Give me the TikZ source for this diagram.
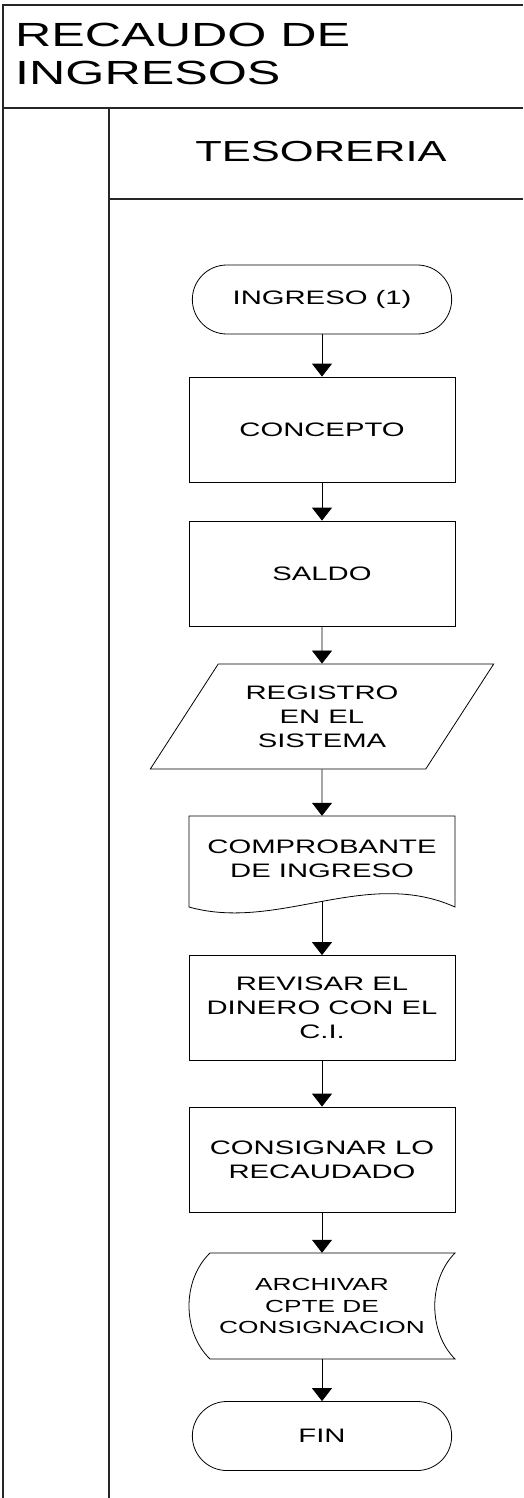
\documentclass[tikz,border=0pt]{standalone}
\usepackage{fontspec}
\setmainfont{Liberation Sans}[FakeStretch=1.5]
\usetikzlibrary{shapes.misc}
\usetikzlibrary{shapes.geometric}
\usetikzlibrary{arrows.meta}

\tikzset{
	caja/.style={draw, rectangle, minimum width=266pt, minimum height=105pt, align=center, line width=0.8pt, font=\fontsize{19.5}{24}\selectfont},
	terminal/.style={draw, rounded rectangle, minimum width=266pt, minimum height=69pt, line width=0.8pt, font=\fontsize{19.5}{24}\selectfont},
	datos/.style={draw, trapezium, trapezium left angle=52.7, trapezium right angle=127.3, trapezium stretches=true, minimum width=344pt, minimum height=105pt, align=center, line width=0.8pt, font=\fontsize{19.5}{24}\selectfont},
	hueco/.style={rectangle, minimum width=266pt, align=center, font=\fontsize{19.5}{24}\selectfont},
	flecha/.style={-{Triangle[width=20pt,length=13pt]}, line width=0.8pt},
	marco/.style={line width=1.2pt, black!85}
}

\begin{document}
\begin{tikzpicture}[x=1pt,y=-1pt]
	\useasboundingbox (0,0) rectangle (523,1498);
	% marco del diagrama
	\draw[marco] (523,5) -- (3,5) -- (3,1498);
	\draw[marco] (3,108) -- (523,108);
	\draw[marco] (109,108) -- (109,1498);
	\draw[marco] (109,199) -- (523,199);
	\node[anchor=north west, align=left, inner sep=0, font=\fontsize{33.5}{38}\selectfont] (titulo) at (15,23) {RECAUDO DE\\INGRESOS};
	\node[font=\fontsize{29}{32}\selectfont] (area) at (321,151.5) {TESORERIA};

	% pasos
	\node[terminal] (ingreso) at (322,299.5) {INGRESO (1)};
	\node[caja] (concepto) at (322,429.5) {CONCEPTO};
	\node[caja] (saldo) at (322,573.5) {SALDO};
	\node[datos] (registro) at (322,716.5) {REGISTRO\\EN EL\\SISTEMA};
	\node[hueco, minimum height=85pt] (comprobante) at (322,858.5) {COMPROBANTE\\DE INGRESO};
	\draw[line width=0.8pt] (189,816) -- (455,816) -- (455,907) .. controls (366,867) and (278,932) .. (189,907) -- cycle;
	\node[caja] (revisar) at (322,1008) {REVISAR EL\\DINERO CON EL\\C.I.};
	\node[caja] (consignar) at (322,1159.5) {CONSIGNAR LO\\RECAUDADO};
	\node[hueco, minimum height=106pt, font=\fontsize{17.5}{21.7}\selectfont] (archivar) at (322,1306) {ARCHIVAR\\CPTE DE\\CONSIGNACION};
	\draw[line width=0.8pt] (210,1253) -- (455,1253) .. controls (428,1280) and (428,1332) .. (455,1359) -- (210,1359) .. controls (182,1332) and (182,1280) .. (210,1253) -- cycle;
	\node[terminal] (fin) at (322,1436) {FIN};

	% conectores
	\draw[flecha] (ingreso.south) -- (concepto.north);
	\draw[flecha] (concepto.south) -- (saldo.north);
	\draw[flecha] (saldo.south) -- (registro.north);
	\draw[flecha] (registro.south) -- (comprobante.north);
	\draw[flecha] (comprobante.south) -- (revisar.north);
	\draw[flecha] (revisar.south) -- (consignar.north);
	\draw[flecha] (consignar.south) -- (archivar.north);
	\draw[flecha] (archivar.south) -- (fin.north);
\end{tikzpicture}
\end{document}
